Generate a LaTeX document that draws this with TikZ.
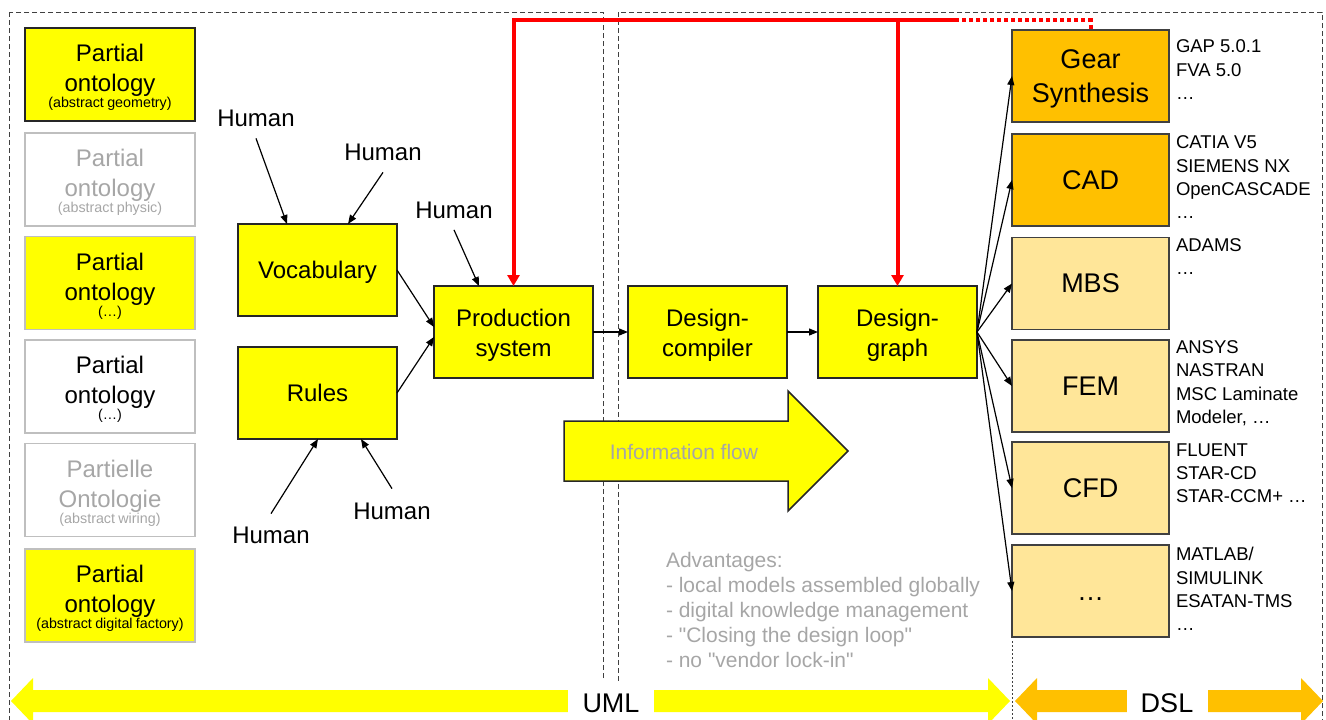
\documentclass[tikz,border=0pt]{standalone}
\usepackage{fontspec}
\setmainfont{Liberation Sans}
\newfontfamily\plainfont{Liberation Sans}
\usetikzlibrary{arrows.meta}
\definecolor{yel}{HTML}{FFFF00}
\definecolor{org}{HTML}{FFC000}
\definecolor{lorg}{HTML}{FFE699}
\definecolor{txtgray}{HTML}{A6A6A6}
\definecolor{bordgray}{HTML}{BFBFBF}
\definecolor{darkline}{HTML}{262626}
\definecolor{midline}{HTML}{404040}
\newcommand\fsz[2]{\fontsize{#1}{#2}\selectfont}
\newcommand\ontotext[2]{\fsz{24}{30}\rule{0pt}{23.5pt}#1\\ontology\par\fsz{14.3}{23}#2}
\begin{document}
\begin{tikzpicture}[x=1pt,y=-1pt,
  every node/.style={inner sep=0pt,outer sep=0pt},
  ontobox/.style={draw=bordgray,line width=1.2pt,minimum width=170pt,minimum height=93pt,text width=166pt,align=center},
  midbox/.style={draw=darkline,fill=yel,line width=1.2pt,minimum width=159pt,minimum height=92pt,align=center},
  toolbox/.style={draw=midline,line width=1.2pt,minimum width=157pt,minimum height=92pt,align=center,font=\fsz{27}{34}},
  toollabel/.style={anchor=north west,align=left,font=\fsz{18.5}{23.3}},
  humanlabel/.style={font=\fsz{24}{28}},
  arr/.style={draw=black,line width=1.2pt,-{Triangle[length=9pt,width=7pt]}},
  redarr/.style={draw=red,line width=4pt,-{Triangle[length=11pt,width=12pt]}},
  redline/.style={draw=red,line width=4pt},
  reddots/.style={draw=red,line width=4pt,dash pattern=on 4pt off 3pt},
  dashbox/.style={draw=midline,line width=1pt,dash pattern=on 5pt off 3pt},
  dotline/.style={draw=midline,line width=1pt,dash pattern=on 2pt off 2pt},
  biglabel/.style={fill=white,minimum height=44pt,font=\fsz{27}{27}}
]
\useasboundingbox (0,0) rectangle (1326,720);
\clip (0,0) rectangle (1326,720);

% dashed regions
\draw[dashbox] (9,12) rectangle (603,760);
\draw[dashbox] (618,12) rectangle (1322,760);

% bottom arrows
\fill[yel] (11,701) -- (33,678) -- (33,690) -- (988,690) -- (988,678) -- (1010,701)
  -- (988,724) -- (988,712) -- (33,712) -- (33,724) -- cycle;
\fill[org] (1015,701) -- (1037,678) -- (1037,690) -- (1301,690) -- (1301,678) -- (1323,701)
  -- (1301,724) -- (1301,712) -- (1037,712) -- (1037,724) -- cycle;
\node[biglabel,minimum width=86pt] (uml) at (611,703) {UML};
\node[biglabel,minimum width=81pt] (dsl) at (1167,703) {DSL};

% information flow arrow
\filldraw[fill=yel,draw=darkline,line width=1.5pt] (564,421) -- (788,421) -- (788,391) -- (848,451)
  -- (788,511) -- (788,481) -- (564,481) -- cycle;
\node[font=\fsz{21}{21},text=txtgray] (ifl) at (684,452) {Information flow};

% partial ontologies
\node[ontobox,draw=darkline,fill=yel] (p1) at (110,74.5) {\ontotext{Partial}{(abstract geometry)}};
\node[ontobox,text=txtgray] (p2) at (110,179.5) {\ontotext{Partial}{(abstract physic)}};
\node[ontobox,fill=yel] (p3) at (110,283) {\ontotext{Partial}{(…)}};
\node[ontobox] (p4) at (110,386.5) {\ontotext{Partial}{(…)}};
\node[ontobox,text=txtgray] (p5) at (110,490) {\fsz{24}{30}\rule{0pt}{23.5pt}Partielle\\Ontologie\par\fsz{14.3}{23}(abstract wiring)};
\node[ontobox,fill=yel] (p6) at (110,595.5) {\ontotext{Partial}{(abstract digital factory)}};

% main chain
\node[midbox,font=\fsz{24}{30},text depth=0pt] (voc) at (317.5,270) {Vocabulary};
\node[midbox,font=\fsz{24}{30},text depth=0pt] (rules) at (317.5,393) {Rules};
\node[midbox,font=\fsz{24}{30}] (prod) at (513.5,332) {\rule{0pt}{23.5pt}Production\\system};
\node[midbox,font=\fsz{24}{30}] (dc) at (707.5,332) {\rule{0pt}{23.5pt}Design-\\compiler};
\node[midbox,font=\fsz{24}{30}] (dg) at (897.5,332) {\rule{0pt}{23.5pt}Design-\\graph};

% humans
\node[humanlabel] (h1) at (256,118) {Human};
\node[humanlabel] (h2) at (383,152) {Human};
\node[humanlabel] (h3) at (454,210) {Human};
\node[humanlabel] (h4) at (271,535) {Human};
\node[humanlabel] (h5) at (392,511) {Human};
\draw[arr] ([yshift=-12pt]h1.south) -- ([xshift=49pt]voc.north west);
\draw[arr] ([yshift=-12pt]h2.south) -- ([xshift=110pt]voc.north west);
\draw[arr] ([yshift=-11.5pt]h3.south) -- ([xshift=45pt]prod.north west);
\draw[arr] ([yshift=13pt]h4.north) -- ([xshift=80pt]rules.south west);
\draw[arr] ([yshift=14pt]h5.north) -- ([xshift=123pt]rules.south west);

\draw[arr] (voc.east) -- ([yshift=5pt]prod.west);
\draw[arr] (rules.east) -- ([yshift=-5pt]prod.west);
\draw[arr] (prod.east) -- (dc.west);
\draw[arr] (dc.east) -- (dg.west);

% tools
\node[toolbox,fill=org,text depth=0pt] (gear) at (1090.5,76) {Gear\\Synthesis};
\node[toolbox,fill=org] (cad) at (1090.5,180) {CAD};
\node[toolbox,fill=lorg] (mbs) at (1090.5,283.5) {MBS};
\node[toolbox,fill=lorg] (fem) at (1090.5,386) {FEM};
\node[toolbox,fill=lorg] (cfd) at (1090.5,488) {CFD};
\node[toolbox,fill=lorg,text depth=0pt] (tdots) at (1090.5,591) {\vphantom{A}…};
\draw[dotline] (tdots.south west) ++(0,4) -- ++(0,120);

\foreach \t in {gear,cad,mbs,fem,cfd,tdots} \draw[arr] (dg.east) -- (\t.west);

\node[toollabel] (lgear) at (1176,40) {GAP 5.0.1\\FVA 5.0\\…};
\node[toollabel] (lcad) at (1176,136) {CATIA V5\\SIEMENS NX\\OpenCASCADE\\…};
\node[toollabel] (lmbs) at (1176,238.5) {ADAMS\\…};
\node[toollabel] (lfem) at (1176,340.5) {ANSYS\\NASTRAN\\MSC Laminate\\Modeler, …};
\node[toollabel] (lcfd) at (1176,443.5) {FLUENT\\STAR-CD\\STAR-CCM+ …};
\node[toollabel] (ldots) at (1176,547.5) {MATLAB/\\SIMULINK\\ESATAN-TMS\\…};

% advantages
\node[anchor=north west,align=left,font=\plainfont\fsz{21}{25},text=txtgray] (adv) at (666,552)
  {Advantages:\\- local models assembled globally\\- digital knowledge management\\- "Closing the design loop"\\- no "vendor lock-in"};

% red feedback lines
\coordinate (rtop) at (prod.north |- 0,20);
\coordinate (rsolid) at (955,20);
\draw[redline] (rtop) -- (rsolid);
\draw[redarr] ([yshift=2pt]rtop) -- (prod.north);
\draw[redarr] (dg.north |- rtop) -- (dg.north);
\draw[reddots] (rsolid) -- (gear.north |- rsolid) -- (gear.north);
\end{tikzpicture}
\end{document}
